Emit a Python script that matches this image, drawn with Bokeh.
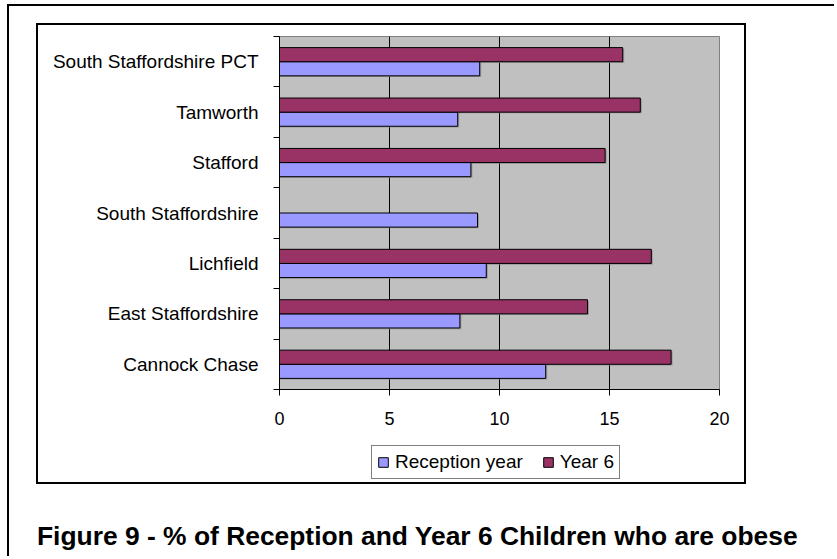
from bokeh.plotting import figure
from bokeh.layouts import column
from bokeh.models import (ColumnDataSource, FixedTicker, Legend, LegendItem,
                          Range1d, Div)
from bokeh.transform import dodge
from bokeh.embed import file_html
from bokeh.resources import INLINE

# ---- data (bottom to top, as drawn) ----
categories = ["Cannock Chase", "East Staffordshire", "Lichfield",
              "South Staffordshire", "Stafford", "Tamworth",
              "South Staffordshire PCT"]
reception = [12.1, 8.2, 9.4, 9.0, 8.7, 8.1, 9.1]
year6 = [17.8, 14.0, 16.9, float("nan"), 14.8, 16.4, 15.6]
series_names = ["Reception year", "Year 6"]
series_fields = ["reception", "year6"]
series_colors = ["#9999FF", "#993366"]
x_ticks = [0, 5, 10, 15, 20]
title_text = "Figure 9 - % of Reception and Year 6 Children who are obese"

FONT = "Liberation Sans"
FS_LAB = "19px"
FS_TICK = "18px"

# ---- geometry (page pixels) ----
CB_L, CB_T, CB_R, CB_B = 36, 23, 746, 484     # chart box (outer edge of 2px border)
BW = 2
IN_L, IN_T = CB_L + BW, CB_T + BW              # inside of chart box
IN_W = CB_R - CB_L - 2 * BW
FL, FT, FW, FH = 279, 36, 440, 353             # gray plot frame
MAIN_H = 408
LEG_H = (CB_B - CB_T - 2 * BW) - MAIN_H
BAR_H = 0.28
OFFS = [-BAR_H / 2, BAR_H / 2]                 # reception below, year 6 above
SH_X = 1.5 * (x_ticks[-1] - x_ticks[0]) / FW   # shadow offset, 1.5px
SH_Y = 1.2 * len(categories) / FH              # shadow offset, 1.2px

ys = list(range(len(categories)))

p = figure(width=IN_W, height=MAIN_H, output_backend="svg", toolbar_location=None,
           x_range=Range1d(x_ticks[0], x_ticks[-1]),
           y_range=Range1d(-0.5, len(categories) - 0.5),
           min_border_left=FL - IN_L, min_border_top=FT - IN_T,
           min_border_right=IN_W - (FL - IN_L) - FW,
           min_border_bottom=MAIN_H - (FT - IN_T) - FH)

p.background_fill_color = "#C0C0C0"
p.border_fill_color = "white"
p.outline_line_color = "#808080"
p.outline_line_width = 1

src = ColumnDataSource(dict(y=ys, reception=reception, year6=year6))
# soft drop shadows (as in the original spreadsheet chart)
for fld, off in zip(series_fields, OFFS):
    p.hbar(y=dodge("y", off - SH_Y), right=dodge(fld, SH_X), left=0, height=BAR_H,
           fill_color="#8c8c8c", fill_alpha=0.8, line_color=None, source=src)
for fld, off, col in zip(series_fields, OFFS, series_colors):
    p.hbar(y=dodge("y", off), right=fld, left=0, height=BAR_H,
           fill_color=col, line_color="black", line_width=1, source=src)

# x axis
p.xaxis.ticker = FixedTicker(ticks=x_ticks)
p.xaxis.axis_line_color = "black"
p.xaxis.major_tick_line_color = "black"
p.xaxis.major_tick_out = 6
p.xaxis.major_tick_in = 0
p.xaxis.minor_tick_out = 0
p.xaxis.minor_tick_in = 0
p.xaxis.major_label_text_font = FONT
p.xaxis.major_label_text_font_size = FS_TICK
p.xaxis.major_label_text_color = "black"
p.xaxis.major_label_standoff = 16

p.xgrid.ticker = FixedTicker(ticks=x_ticks[1:-1])
p.xgrid.grid_line_color = "black"
p.xgrid.grid_line_width = 1
p.ygrid.visible = False

# y axis: labels at category centres, tick marks at boundaries
p.yaxis.ticker = FixedTicker(ticks=ys,
                             minor_ticks=[y - 0.5 for y in ys] + [ys[-1] + 0.5])
p.yaxis.major_label_overrides = {y: c for y, c in zip(ys, categories)}
p.yaxis.axis_line_color = "black"
p.yaxis.major_tick_out = 0
p.yaxis.major_tick_in = 0
p.yaxis.minor_tick_out = 6
p.yaxis.minor_tick_in = 0
p.yaxis.minor_tick_line_color = "black"
p.yaxis.major_label_text_font = FONT
p.yaxis.major_label_text_font_size = FS_LAB
p.yaxis.major_label_text_color = "black"
p.yaxis.major_label_standoff = 15

# ---- legend strip (bottom part of chart box; its frame aligns with the plot frame) ----
# the key renderers share the series data but are hidden, so only their
# legend swatches are seen
pl = figure(width=IN_W, height=LEG_H, output_backend="svg", toolbar_location=None,
            x_axis_type=None, y_axis_type=None, min_border=0,
            x_range=Range1d(-2, -1), y_range=Range1d(-0.5, len(categories) - 0.5))
pl.grid.visible = False
pl.outline_line_color = None
pl.background_fill_color = "white"
pl.border_fill_color = "white"
keys = [pl.hbar(y=dodge("y", off), right=fld, left=0, height=BAR_H, fill_color=col,
                line_color="black", line_width=1, source=src, visible=False)
        for fld, off, col in zip(series_fields, OFFS, series_colors)]

legend = Legend(items=[LegendItem(label=n, renderers=[r]) for n, r in zip(series_names, keys)],
                orientation="horizontal",
                location=(371 - FL, (IN_T + MAIN_H + LEG_H) - 479))
legend.label_text_font = FONT
legend.label_text_font_size = FS_LAB
legend.label_text_color = "black"
legend.glyph_width = 12
legend.glyph_height = 12
legend.label_standoff = 6
legend.spacing = 19
legend.padding = 5
legend.border_line_color = "black"
legend.border_line_width = 1
legend.background_fill_color = "white"
legend.background_fill_alpha = 1
pl.add_layout(legend)

chart_box = column(p, pl, spacing=0,
                   styles={"border": f"{BW}px solid black"},
                   margin=(CB_T - 6, 0, 0, CB_L - 9))

caption = Div(text=title_text, width=790, height=34,
              styles={"font-family": FONT, "font-weight": "bold",
                      "font-size": "26.4px", "color": "black",
                      "line-height": "30px", "white-space": "nowrap"},
              margin=(521 - CB_B, 0, 0, 37 - 9))

root = column(chart_box, caption, spacing=0,
              styles={"border-top": "2.5px solid black",
                      "border-left": "2.5px solid black"},
              margin=(4, 0, 0, 7), width=827, height=552)

open("out.html", "w").write(file_html(root, INLINE))
